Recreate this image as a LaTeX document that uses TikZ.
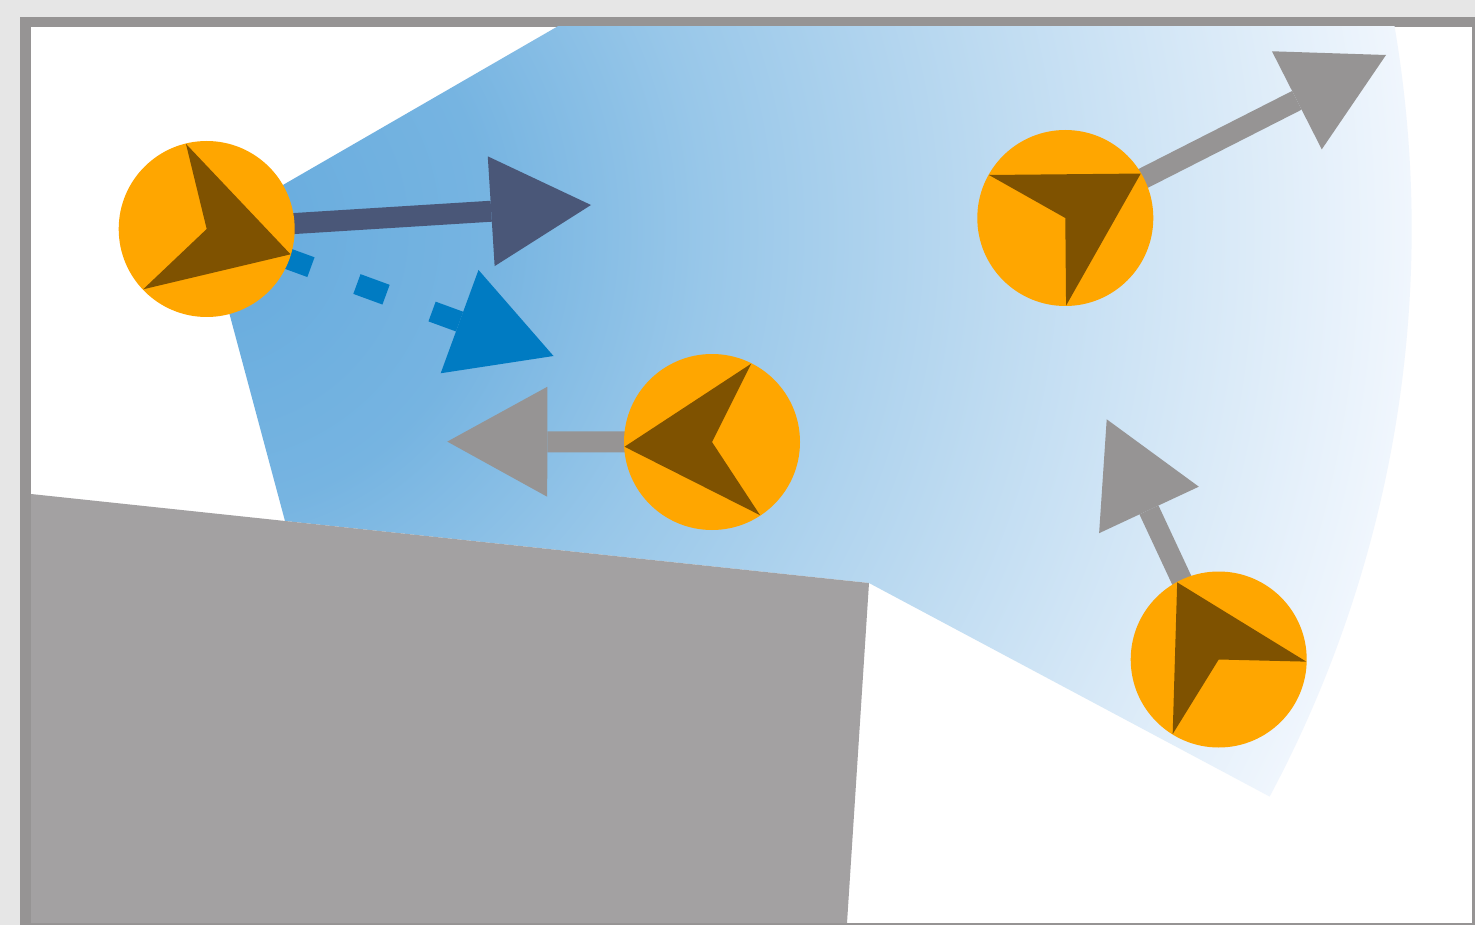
\documentclass[tikz,border=0pt]{standalone}
\usetikzlibrary{arrows.meta,calc}
\definecolor{bgout}{HTML}{E6E6E6}
\definecolor{framec}{HTML}{969494}
\definecolor{obst}{HTML}{A3A1A2}
\definecolor{robotc}{HTML}{FFA600}
\definecolor{headc}{HTML}{7F5200}
\definecolor{darkarr}{HTML}{4A5778}
\definecolor{bluearr}{HTML}{007BC2}
\definecolor{grayarr}{HTML}{969494}
\definecolor{fovA}{HTML}{66ABDE}
\definecolor{fovB}{HTML}{76B4E1}
\definecolor{fovC}{HTML}{98C7E9}
\definecolor{fovD}{HTML}{BEDBF1}
\definecolor{fovE}{HTML}{F0F6FD}
\pgfdeclareradialshading{fovshade}{\pgfpoint{0bp}{0bp}}{color(0bp)=(fovA); color(5.8bp)=(fovB); color(10.35bp)=(fovC); color(16.6bp)=(fovD); color(25bp)=(fovE); color(50bp)=(fovE)}
\pgfdeclarelayer{back}
\pgfdeclarelayer{mid}
\pgfsetlayers{back,mid,main}
\newcommand\robothead[4]{\fill[headc] (#1.center) -- ($(#1.center)+(#3:87.6)$) -- ($(#1.center)+(#2:87.6)$) -- ($(#1.center)+(#4:87.6)$) -- cycle;}
\begin{document}
\begin{tikzpicture}[x=1pt,y=-1pt,
  robot/.style={circle,fill=robotc,minimum size=176pt,inner sep=0pt,outer sep=0pt},
  arr/.style={line width=21pt,-{Triangle[length=100pt,width=110pt,line width=0pt]}},
  dasharr/.style={arr,dash pattern=on 31pt off 49pt}
]
\useasboundingbox (0,0) rectangle (1475,925);
% robots
\node[robot] (r1) at (206.7,229) {};
\node[robot] (r2) at (712,442) {};
\node[robot] (r3) at (1065.3,218) {};
\node[robot] (r4) at (1218.7,659.5) {};
\robothead{r1}{16.8}{-103.7}{136.5}
\robothead{r2}{176.9}{-63.4}{56.7}
\robothead{r3}{-30.5}{-150.6}{89.5}
\robothead{r4}{-118.3}{1.4}{121.7}
% arrow tips
\coordinate (t1) at (591,205);
\coordinate (t1b) at (553.5,356);
\coordinate (t2) at (447.3,441.6);
\coordinate (t3) at (1386,55);
\coordinate (t4) at (1106.7,419.3);
\begin{pgfonlayer}{back}
\fill[bgout] (0,0) rectangle (1475,925);
\fill[framec] (20,17) rectangle (1475,925);
\fill[white] (31,27) rectangle (1472,923);
\begin{scope}
\clip (31,27) rectangle (1472,923);
\clip (r1.center) -- (285,521) -- (869,583) -- ($(r1.center)+(28.1:1205)$) arc[start angle=28.1,end angle=-30,radius=1205] -- cycle;
\shade[shading=fovshade] (r1.center) circle (1205);
\end{scope}
\fill[obst] (31,494) -- (869,583) -- (847,923) -- (31,923) -- cycle;
\end{pgfonlayer}
\begin{pgfonlayer}{mid}
\draw[arr,darkarr] (r1.center) -- (t1);
\draw[dasharr,bluearr] (r1.center) -- (t1b);
\draw[arr,grayarr] (r2.center) -- (t2);
\draw[arr,grayarr] (r3.center) -- (t3);
\draw[arr,grayarr] (r4.center) -- (t4);
\end{pgfonlayer}
\end{tikzpicture}
\end{document}
